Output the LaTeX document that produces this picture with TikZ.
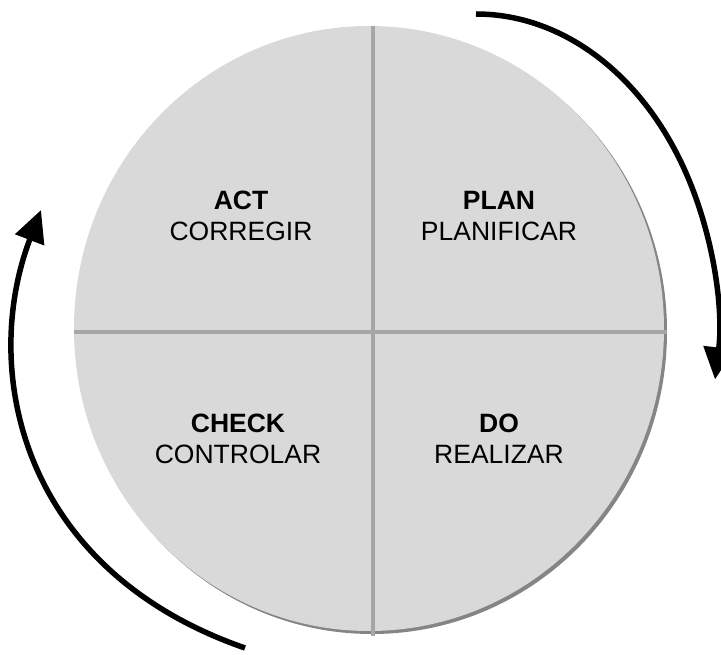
\documentclass[tikz,border=0pt]{standalone}
\usepackage{fontspec}
\setmainfont{Liberation Sans}
\usetikzlibrary{arrows.meta}
\definecolor{disk}{HTML}{D9D9D9}
\definecolor{rim}{HTML}{858585}
\definecolor{divider}{HTML}{A6A6A6}
\tikzset{x=1pt,y=1pt,
  every node/.style={font=\fontsize{26.5}{31}\selectfont,align=center},
  cycle/.style={-{Triangle[length=32pt,width=30pt]},line width=5.5pt,black},
  split/.style={draw=divider,line width=4pt}}
\begin{document}
\begin{tikzpicture}
\path[use as bounding box] (0,0) rectangle (721,654);
\fill[rim] (372,322.5) ellipse [x radius=295,y radius=302.5];\fill[disk] (369,325.5) ellipse [x radius=295,y radius=302.5];
\coordinate (top) at (373,628);\coordinate (bottom) at (373,18);\coordinate (left) at (74,322);\coordinate (right) at (667,322);
\draw[split] (top)--(bottom);\draw[split] (left)--(right);
\node (act) at (241,438) {\bfseries ACT\\CORREGIR};\node (plan) at (499,438) {\bfseries PLAN\\PLANIFICAR};
\node (check) at (238,215) {\bfseries CHECK\\CONTROLAR};\node (do) at (499,215) {\bfseries DO\\REALIZAR};
\coordinate (planstart) at (476,640);\coordinate (checkstart) at (245,6);\coordinate (acttip) at (41,444);
\draw[cycle] (planstart) arc [start angle=90,end angle=-9,x radius=242,y radius=316];
\draw[cycle] (checkstart) .. controls (20,84) and (-20,284) .. (acttip);
\end{tikzpicture}
\end{document}
